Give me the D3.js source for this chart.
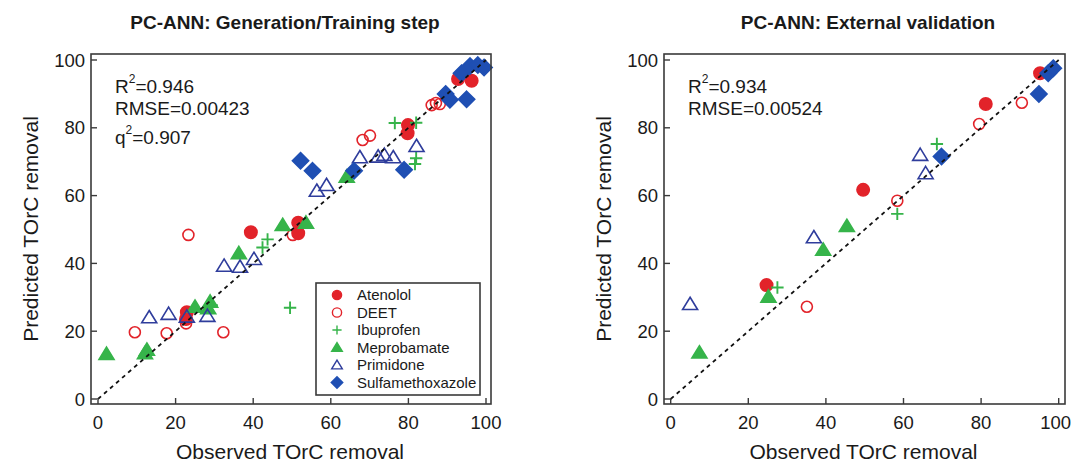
<!DOCTYPE html>
<html><head><meta charset="utf-8">
<script src="https://cdn.jsdelivr.net/npm/d3@7"></script>
<style>
html,body{margin:0;padding:0;background:#fff;}
svg text{font-family:Arial,"Liberation Sans",sans-serif;fill:#1a1a1a;}
</style></head>
<body><svg id="c" width="1072" height="464"></svg>
<script>
// ---------- data ----------
const compounds = ["Atenolol","DEET","Ibuprofen","Meprobamate","Primidone","Sulfamethoxazole"];
const ticks = [0,20,40,60,80,100];
const titles = ["PC-ANN: Generation/Training step","PC-ANN: External validation"];
const xTitle = "Observed TOrC removal";
const yTitle = "Predicted TOrC removal";

// training step [observed, predicted]
const trainAtenolol = [[92.8,94.4],[96.3,93.9],[79.9,80.8],[79.8,78.4],[51.6,52.0],[51.6,48.9],[39.4,49.2],[22.9,25.6],[22.7,23.6]];
const trainDEET = [[86.0,86.7],[87.1,87.3],[88.1,87.0],[68.2,76.4],[70.1,77.7],[50.2,48.4],[23.3,48.4],[22.7,22.3],[9.5,19.7],[17.7,19.4],[32.3,19.7]];
const trainIbuprofen = [[76.5,81.4],[82.0,81.5],[82.0,71.0],[81.7,69.3],[43.7,47.1],[42.4,44.7],[49.5,26.9],[29.3,27.7]];
const trainMeprobamate = [[64.1,65.6],[47.6,51.3],[53.6,52.0],[36.3,43.0],[25.0,27.2],[28.4,26.8],[28.9,28.7],[2.2,13.3],[12.1,13.5],[12.6,14.5]];
const trainPrimidone = [[82.1,74.6],[67.5,71.3],[72.2,71.5],[73.8,72.0],[76.1,71.3],[58.9,63.1],[56.4,61.4],[32.5,39.3],[36.6,39.0],[40.2,41.3],[13.2,24.1],[18.2,25.1],[22.9,24.3],[28.2,24.5]];
const trainSulfa = [[93.7,96.1],[95.9,98.2],[97.9,98.5],[99.5,97.8],[89.6,90.0],[90.7,88.3],[95.0,88.4],[78.9,67.6],[52.2,70.3],[55.3,67.3],[66.0,67.3]];

// external validation
const valAtenolol = [[95.2,96.1],[81.2,87.0],[49.6,61.7],[24.7,33.6]];
const valDEET = [[90.5,87.4],[79.5,81.1],[58.4,58.5],[35.1,27.2]];
const valIbuprofen = [[68.6,75.2],[58.4,54.6],[27.5,32.9]];
const valMeprobamate = [[45.4,51.0],[39.3,44.0],[25.2,30.2],[7.4,13.7]];
const valPrimidone = [[36.9,47.7],[64.3,72.0],[65.7,66.6],[5.0,28.0]];
const valSulfa = [[97.3,96.1],[98.6,97.6],[94.9,90.0],[69.8,71.5]];

const trainStats = [["R","2","=0.946"],["RMSE","","=0.00423"],["q","2","=0.907"]];
const valStats = [["R","2","=0.934"],["RMSE","","=0.00524"]];

// ---------- styles ----------
const RED="#e2232a", GREEN="#36b44a", BLUE="#1f4fb3", NAVY="#2f3d9c";
const style = {
  Atenolol:{type:"circle",fill:RED,stroke:RED},
  DEET:{type:"circle",fill:"none",stroke:RED},
  Ibuprofen:{type:"plus",fill:"none",stroke:GREEN},
  Meprobamate:{type:"triangle",fill:GREEN,stroke:GREEN},
  Primidone:{type:"triangle",fill:"none",stroke:NAVY},
  Sulfamethoxazole:{type:"diamond",fill:BLUE,stroke:BLUE}
};

const svg = d3.select("#c");
const W = 1072;

function markerPath(type, s){
  if(type==="circle") return d3.symbol(d3.symbolCircle, Math.PI*s*s)();
  if(type==="triangle"){ const h=s*1.05; return `M0,${-h}L${h*1.1},${h*0.8}L${-h*1.1},${h*0.8}Z`; }
  if(type==="diamond"){ const h=s*1.25; return `M0,${-h}L${h},0L0,${h}L${-h},0Z`; }
  if(type==="plus"){ return `M${-s},0H${s}M0,${-s}V${s}`; }
}

function panel(cfg){
  const g = svg.append("g");
  const x = d3.scaleLinear().domain([0,100]).range([cfg.x0, cfg.x100]);
  const y = d3.scaleLinear().domain([0,100]).range([399, 60]);
  const L=cfg.left, R=cfg.right, T=54, B=404;

  // title
  g.append("text").attr("x",cfg.titleX).attr("y",29).attr("text-anchor","middle")
    .attr("font-size",19).attr("font-weight","bold").text(cfg.title);

  // points
  const layer = g.append("g");
  cfg.series.forEach((pts,i)=>{
    const st = style[compounds[i]];
    const sz = st.type==="circle" ? (st.fill==="none"?5.5:6.2) : (st.type==="plus"?6.2:6.5);
    layer.selectAll(null).data(pts).join("path")
      .attr("transform",d=>`translate(${x(d[0])},${y(d[1])})`)
      .attr("d",markerPath(st.type, sz))
      .attr("fill",st.fill).attr("stroke",st.stroke)
      .attr("stroke-width", st.type==="plus"?1.9:1.6);
  });

  // 1:1 dashed line
  g.append("line").attr("x1",x(0)).attr("y1",y(0)).attr("x2",x(100)).attr("y2",y(100))
    .attr("stroke","#111").attr("stroke-width",1.8).attr("stroke-dasharray","4,4");

  // frame
  g.append("rect").attr("x",L).attr("y",T).attr("width",R-L).attr("height",B-T)
    .attr("fill","none").attr("stroke","#3a3a3a").attr("stroke-width",1.6);

  // ticks (inward) + labels
  const xt = g.append("g");
  xt.selectAll("line").data(ticks).join("line")
    .attr("x1",d=>x(d)).attr("x2",d=>x(d)).attr("y1",B).attr("y2",B-6)
    .attr("stroke","#3a3a3a").attr("stroke-width",1.4);
  xt.selectAll("text").data(ticks).join("text")
    .attr("x",d=>x(d)).attr("y",429).attr("text-anchor","middle").attr("font-size",18.5).text(d=>d)
    .each(function(){
      const bb=this.getBBox();
      if(bb.x+bb.width>W-1) d3.select(this).attr("x", W-1-bb.width/2);
    });
  const yt = g.append("g");
  yt.selectAll("line").data(ticks).join("line")
    .attr("y1",d=>y(d)).attr("y2",d=>y(d)).attr("x1",L).attr("x2",L+6)
    .attr("stroke","#3a3a3a").attr("stroke-width",1.4);
  yt.selectAll("text").data(ticks).join("text")
    .attr("x",L-6).attr("y",d=>y(d)+6.5).attr("text-anchor","end").attr("font-size",18.5).text(d=>d);

  // axis titles
  g.append("text").attr("x",(L+R)/2-1).attr("y",458.5).attr("text-anchor","middle").attr("font-size",21).text(xTitle);
  g.append("text").attr("transform",`translate(${L-53},${(T+B)/2}) rotate(-90)`)
    .attr("text-anchor","middle").attr("font-size",21).text(yTitle);

  // stats
  const baselines=[93,115,144];
  cfg.stats.forEach((s,i)=>{
    const t = g.append("text").attr("x",L+24).attr("y",baselines[i]).attr("font-size",19);
    t.append("tspan").text(s[0]);
    if(s[1]) t.append("tspan").attr("dy",-10).attr("font-size",12).text(s[1]);
    t.append("tspan").attr("dy",s[1]?10:0).text(s[2]);
  });

  // legend
  if(cfg.legend){
    const lg = g.append("g");
    lg.append("rect").attr("x",316).attr("y",283).attr("width",164).attr("height",112)
      .attr("fill","#fff").attr("stroke","#3a3a3a").attr("stroke-width",1.6);
    compounds.forEach((c,i)=>{
      const st=style[c], cy=295+i*17.5;
      lg.append("path").attr("transform",`translate(337,${cy})`)
        .attr("d",markerPath(st.type, 4.6))
        .attr("fill",st.fill).attr("stroke",st.stroke).attr("stroke-width",1.4);
      lg.append("text").attr("x",357).attr("y",cy+5).attr("font-size",15).text(c);
    });
  }
}

panel({left:91,right:491,x0:98,x100:486,title:titles[0],titleX:285,
  series:[trainAtenolol,trainDEET,trainIbuprofen,trainMeprobamate,trainPrimidone,trainSulfa],
  stats:trainStats,legend:true});
panel({left:664,right:1065,x0:670.7,x100:1058.7,title:titles[1],titleX:868,
  series:[valAtenolol,valDEET,valIbuprofen,valMeprobamate,valPrimidone,valSulfa],
  stats:valStats,legend:false});
</script></body></html>
